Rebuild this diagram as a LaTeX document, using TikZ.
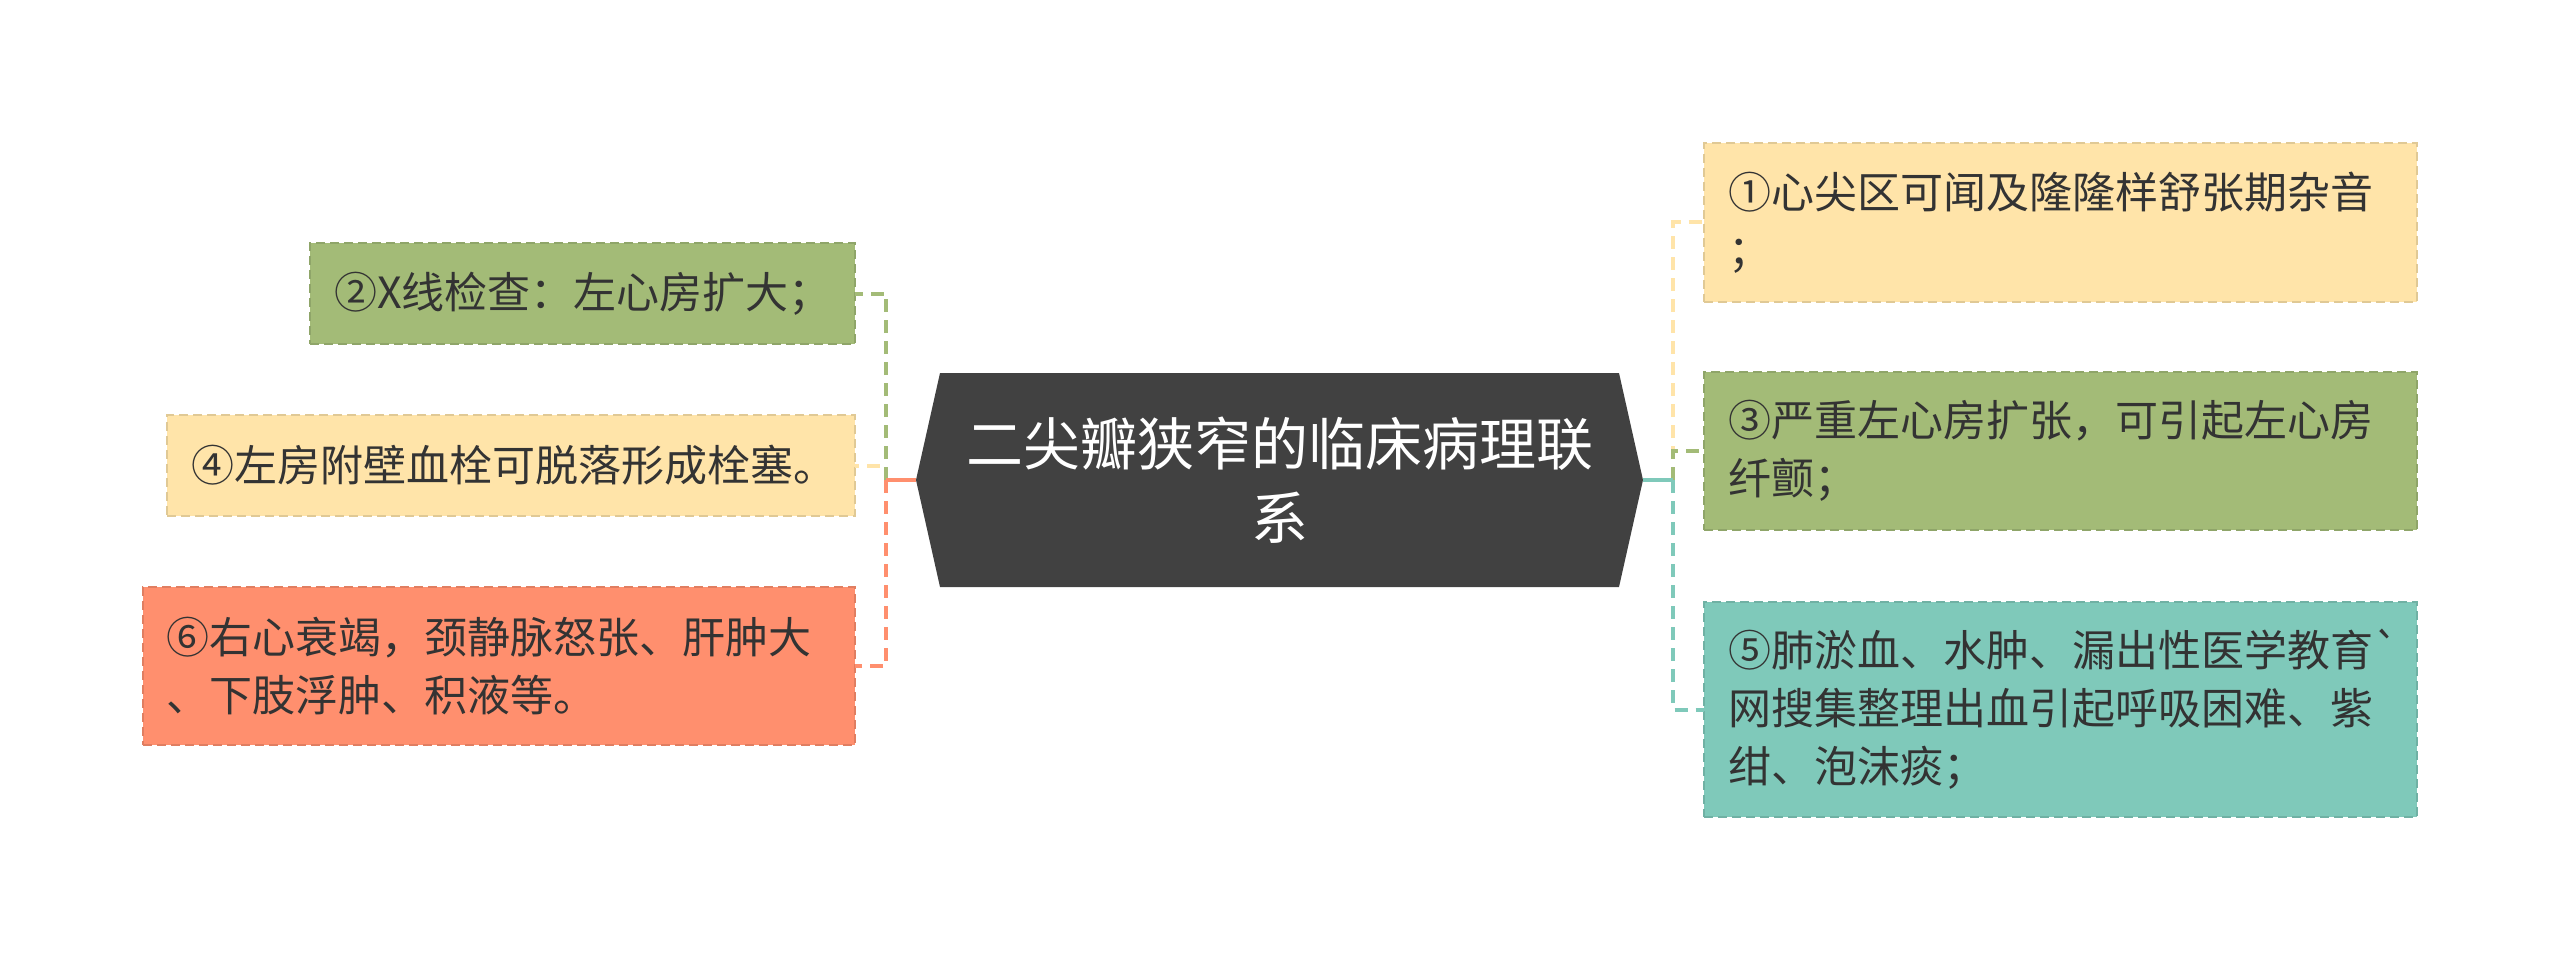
\documentclass[tikz,border=0pt]{standalone}
\usepackage{fontspec}
\setmainfont{Noto Sans CJK SC}
\newfontfamily\plainfont{Noto Sans CJK SC}
\definecolor{cyel}{HTML}{FFE4A9}
\definecolor{cgrn}{HTML}{A3BB77}
\definecolor{cteal}{HTML}{7FC9BA}
\definecolor{csal}{HTML}{FF8F6E}
\definecolor{cdark}{HTML}{414141}
\definecolor{ctext}{HTML}{333333}
\tikzset{
  box/.style={draw=#1!88!black, fill=#1, line width=1.5pt, dash pattern=on 9pt off 5pt,
    anchor=north west, inner xsep=24pt, inner ysep=0pt, outer sep=0pt, align=left,
    text=ctext, font=\fontsize{43pt}{58pt}\selectfont},
  stem/.style={draw=#1, line width=4pt},
  link/.style={draw=#1, line width=4pt, dash pattern=on 13pt off 8pt},
  centertext/.style={text=white, align=center, inner sep=0pt,
    font=\fontsize{57pt}{74pt}\selectfont}
}
\begin{document}
\begin{tikzpicture}[x=1pt,y=-1pt]
\useasboundingbox (0,0) rectangle (2560,960);
% central node
\fill[cdark] (916,480) -- (940,373) -- (1619,373) -- (1643,480) -- (1619,587) -- (940,587) -- cycle;
\node[centertext] (c) at (1279.5,480) {二尖瓣狭窄的临床病理联\\系};
\coordinate (cl) at (916,480);
\coordinate (cr) at (1643,480);
\coordinate (jl) at (886,480);
\coordinate (jr) at (1673,480);
% right boxes
\node[box=cyel, minimum width=713pt, minimum height=159pt, text width=665pt] (b1) at (1704,143)
  {①心尖区可闻及隆隆样舒张期杂音\\；};
\node[box=cgrn, minimum width=713pt, minimum height=158pt, text width=665pt] (b3) at (1704,372)
  {③严重左心房扩张，可引起左心房\\纤颤；};
\node[box=cteal, minimum width=713pt, minimum height=215pt, text width=665pt] (b5) at (1704,602)
  {⑤肺淤血、水肿、漏出性医学教育{\plainfont `}\\网搜集整理出血引起呼吸困难、紫\\绀、泡沫痰；};
% left boxes
\node[box=cgrn, minimum width=545pt, minimum height=101pt, text width=497pt] (b2) at (310,243)
  {②X线检查：左心房扩大；};
\node[box=cyel, minimum width=688pt, minimum height=101pt, text width=640pt, inner xsep=23pt] (b4) at (167,415)
  {④左房附壁血栓可脱落形成栓塞。};
\node[box=csal, minimum width=712pt, minimum height=158pt, text width=666pt, inner xsep=23pt] (b6) at (143,587)
  {⑥右心衰竭，颈静脉怒张、肝肿大\\、下肢浮肿、积液等。};
% right connectors
\draw[stem=cyel] (cr) -- (jr);
\draw[link=cyel] (jr) |- (b1.west);
\draw[stem=cgrn] (cr) -- (jr);
\draw[link=cgrn] (jr) |- (b3.west);
\draw[stem=cteal] (cr) -- (jr);
\draw[link=cteal] (jr) |- (b5.west);
% left connectors
\draw[stem=cyel] (cl) -- (jl);
\draw[link=cyel] (jl) |- (b4.east);
\draw[stem=cgrn] (cl) -- (jl);
\draw[link=cgrn] (jl) |- (b2.east);
\draw[stem=csal] (cl) -- (jl);
\draw[link=csal] (jl) |- (b6.east);
\end{tikzpicture}
\end{document}
